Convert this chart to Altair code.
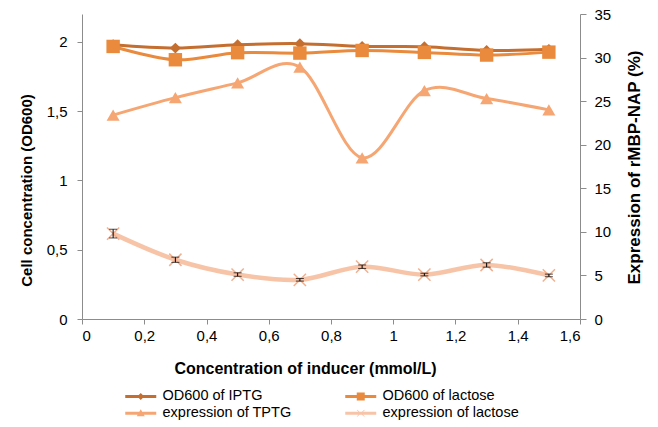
import altair as alt
import pandas as pd

# ---------------- data ----------------
inducer = [0.1, 0.3, 0.5, 0.7, 0.9, 1.1, 1.3, 1.5]
od_iptg = [1.978, 1.954, 1.978, 1.986, 1.966, 1.964, 1.937, 1.945]
od_lactose = [1.966, 1.870, 1.921, 1.918, 1.937, 1.923, 1.904, 1.925]
expr_tptg = [23.4, 25.4, 27.1, 28.9, 18.5, 26.2, 25.3, 24.0]
expr_lactose = [9.8, 6.8, 5.1, 4.5, 6.0, 5.1, 6.2, 5.0]
expr_lactose_err = [0.5, 0.3, 0.2, 0.15, 0.2, 0.15, 0.25, 0.15]

# legend order (column-major fill: col 1 = IPTG, TPTG; col 2 = lactose, lactose)
series_names = ["OD600 of IPTG", "expression of TPTG", "OD600 of lactose", "expression of  lactose"]
series_colors = ["#C46E30", "#F5A673", "#E98A3C", "#F7C4A8"]

x_ticks = [0, 0.2, 0.4, 0.6, 0.8, 1.0, 1.2, 1.4, 1.6]
left_ticks = [0, 0.5, 1, 1.5, 2]
right_ticks = [0, 5, 10, 15, 20, 25, 30, 35]

LINE = "M-5.2,-0.3L1,-0.3L1,0.3L-5.2,0.3Z "
legend_paths = [
    LINE + "M-2.1,-0.7L-1.4,0L-2.1,0.7L-2.8,0Z",
    LINE + "M-2.1,-0.8L-1.3,0.6L-2.9,0.6Z",
    LINE + "M-2.9,-0.8L-1.3,-0.8L-1.3,0.8L-2.9,0.8Z",
    LINE + "M-2.8,-0.7L-1.3,0.6L-1.4,0.7L-2.9,-0.6Z M-1.3,-0.6L-2.8,0.7L-2.9,0.6L-1.4,-0.7Z",
]

df = pd.DataFrame({
    "x": inducer,
    "od_iptg": od_iptg,
    "od_lactose": od_lactose,
    "expr_tptg": expr_tptg,
    "expr_lactose": expr_lactose,
    "lo": [v - e for v, e in zip(expr_lactose, expr_lactose_err)],
    "hi": [v + e for v, e in zip(expr_lactose, expr_lactose_err)],
})

long_df = pd.DataFrame({
    "series": [n for n in series_names for _ in inducer],
    "x": inducer * 4,
    "value": od_iptg + expr_tptg + od_lactose + expr_lactose,
})

FONT = "Liberation Sans"
W, H = 498, 305
AX_GRAY = "#8c8c8c"
comma = "replace(format(datum.value, '~g'), '.', ',')"

xenc = alt.X(
    "x:Q",
    scale=alt.Scale(domain=[0, 1.6], nice=False, zero=False),
    axis=alt.Axis(
        values=x_ticks, labelExpr=comma, grid=False,
        title="Concentration of inducer (mmol/L)",
        domainColor=AX_GRAY, tickColor=AX_GRAY, tickSize=5, labelPadding=4,
        labelFont=FONT, labelFontSize=15, labelColor="black",
        titleFont=FONT, titleFontSize=16, titleFontWeight="bold", titleColor="black",
        titleX=223, titleY=49, titleAlign="center", titleBaseline="middle",
    ),
)

axL = alt.Axis(
    values=left_ticks, labelExpr=comma, grid=False,
    title="Cell concentration (OD600)",
    domainColor=AX_GRAY, tickColor=AX_GRAY, tickSize=5, labelPadding=10,
    labelFont=FONT, labelFontSize=15, labelColor="black",
    titleFont=FONT, titleFontSize=15, titleFontWeight="bold", titleColor="black",
    titleAngle=270, titleX=-56, titleY=176, titleAlign="center", titleBaseline="middle",
)
axR = alt.Axis(
    values=right_ticks, grid=False, orient="right",
    title="Expression of rMBP-NAP (%)",
    domainColor=AX_GRAY, tickColor=AX_GRAY, tickSize=6, labelPadding=8,
    labelFont=FONT, labelFontSize=15, labelColor="black",
    titleFont=FONT, titleFontSize=17, titleFontWeight="bold", titleColor="black",
    titleAngle=270, titleX=54, titleY=153, titleAlign="center", titleBaseline="middle",
)
scL = alt.Scale(domain=[0, 2.2], nice=False)
scR = alt.Scale(domain=[0, 35], nice=False)

base = alt.Chart(df)


def line(field, color, width, axis, scale):
    return base.mark_line(interpolate="cardinal", tension=0, color=color, strokeWidth=width).encode(
        x=xenc, y=alt.Y(f"{field}:Q", scale=scale, axis=axis))


def points(field, color, shape, size, axis, scale, filled=True, sw=0):
    return base.mark_point(shape=shape, size=size, filled=filled, color=color, opacity=1,
                           strokeWidth=sw).encode(
        x=xenc, y=alt.Y(f"{field}:Q", scale=scale, axis=axis))


left = alt.layer(
    line("od_iptg", "#C46E30", 3, axL, scL),
    points("od_iptg", "#C46E30", "diamond", 120, axL, scL),
    line("od_lactose", "#E98A3C", 3, axL, scL),
    points("od_lactose", "#E98A3C", "square", 180, axL, scL),
)

leg = alt.Legend(
    title=None, orient="none", legendX=62, legendY=375, columns=2,
    columnPadding=53, rowPadding=2, symbolSize=100, symbolOpacity=1,
    symbolStrokeWidth=0, labelFont=FONT, labelFontSize=14.5, labelColor="black",
    labelOffset=4,
)

legend_layer = alt.Chart(long_df).transform_filter("false").mark_point(filled=True, opacity=1).encode(
    x=xenc,
    y=alt.Y("value:Q", scale=scR, axis=axR),
    color=alt.Color("series:N", scale=alt.Scale(domain=series_names, range=series_colors), legend=leg),
    shape=alt.Shape("series:N", scale=alt.Scale(domain=series_names, range=legend_paths), legend=leg),
)

right = alt.layer(
    line("expr_tptg", "#F5A673", 3, axR, scR),
    points("expr_tptg", "#F5A673", "triangle-up", 170, axR, scR),
    line("expr_lactose", "#F7C4A8", 4.5, axR, scR),
    points("expr_lactose", "#F3B08F", "M-1,-1L1,1M-1,1L1,-1", 150, axR, scR, filled=False, sw=1.5),
    base.mark_rule(color="black", strokeWidth=1).encode(
        x=xenc, y=alt.Y("lo:Q", scale=scR, axis=axR), y2="hi:Q"),
    base.mark_tick(orient="horizontal", size=8, thickness=1, color="black").encode(
        x=xenc, y=alt.Y("lo:Q", scale=scR, axis=axR)),
    base.mark_tick(orient="horizontal", size=8, thickness=1, color="black").encode(
        x=xenc, y=alt.Y("hi:Q", scale=scR, axis=axR)),
    legend_layer,
)

chart = alt.layer(left, right).resolve_scale(y="independent").properties(
    width=W, height=H,
    padding={"left": 82, "top": 14, "right": 78, "bottom": 108},
    autosize=alt.AutoSizeParams(type="none"),
    background="white",
).configure_view(stroke=None)

chart.save("out.html", embed_options={"renderer": "svg", "actions": False})
